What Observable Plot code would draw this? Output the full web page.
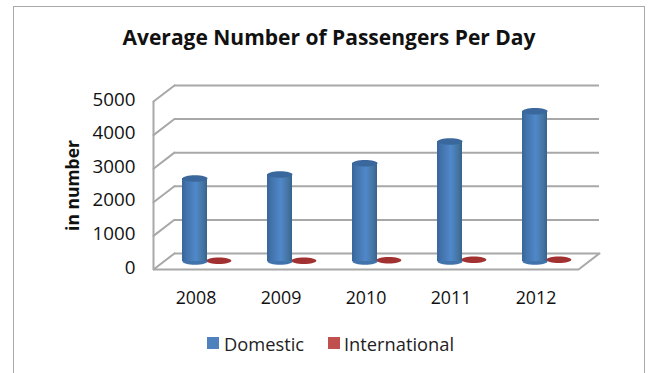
<!DOCTYPE html>
<html><head><meta charset="utf-8">
<script src="https://cdn.jsdelivr.net/npm/d3@7"></script>
<script src="https://cdn.jsdelivr.net/npm/@observablehq/plot@0.6"></script>
<style>
html,body{margin:0;padding:0;background:#fff;width:650px;height:373px;overflow:hidden}
body{position:relative;font-family:"Open Sans",sans-serif;color:#111}
#frame{position:absolute;left:13px;top:6px;width:632px;height:420px;border:1.5px solid #a9a9a9;box-sizing:border-box}
#title{position:relative;height:65px;line-height:74px;text-align:center;padding-left:8px;font-size:21px;font-weight:700;box-sizing:border-box;white-space:nowrap}
#chart{position:relative;height:255px}
#chart svg{display:block}
#legend{position:absolute;top:331px;left:0;width:650px;height:26px;font-size:18.3px;color:#222}
#legend span{position:absolute;top:0;line-height:26px;white-space:nowrap}
#legend i{position:absolute;top:6px;width:12px;height:12px}
</style></head>
<body>
<div id="frame"></div>
<div id="title">Average Number of Passengers Per Day</div>
<div id="chart"></div>
<div id="legend"></div>
<script>
const years = [2008, 2009, 2010, 2011, 2012];
const domestic = [2470, 2590, 2925, 3570, 4470];
const international = [20, 20, 40, 50, 50];
const yTicks = [0, 1000, 2000, 3000, 4000, 5000];
const seriesNames = ["Domestic", "International"];
const seriesColors = ["#4f81bd", "#c0504d"];

const half = 0.147;
const redShift = 0.28;
const xMin = 2007.5, xMax = 2012.5;
const grid = "#a8a8a8";

function ellipseSymbol(ratio) {
  return {
    draw(c, size) {
      const a = Math.sqrt(size / Math.PI), b = a * ratio, k = 0.5523;
      c.moveTo(-a, 0);
      c.bezierCurveTo(-a, -b * k, -a * k, -b, 0, -b);
      c.bezierCurveTo(a * k, -b, a, -b * k, a, 0);
      c.bezierCurveTo(a, b * k, a * k, b, 0, b);
      c.bezierCurveTo(-a * k, b, -a, b * k, -a, 0);
      c.closePath();
    }
  };
}
const ell = ellipseSymbol(0.26);
const depthEdge = {draw(c, l) { c.moveTo(0, 0); c.lineTo(0, -l); }};

const defs = () => {
  const ns = "http://www.w3.org/2000/svg";
  const d = document.createElementNS(ns, "defs");
  d.innerHTML = `<linearGradient id="cyl" x1="0" x2="1" y1="0" y2="0">
    <stop offset="0" stop-color="#38659a"/><stop offset="0.18" stop-color="#4273ab"/>
    <stop offset="0.55" stop-color="#5088ca"/><stop offset="0.85" stop-color="#44749f"/>
    <stop offset="1" stop-color="#37628f"/></linearGradient>`;
  return d;
};

const line = {stroke: grid, strokeWidth: 2};
const chart = Plot.plot({
  width: 650, height: 255,
  marginTop: 20, marginBottom: 67, marginLeft: 153, marginRight: 72,
  x: {type: "linear", domain: [xMin, xMax], range: [153, 578]},
  y: {type: "linear", domain: [0, 5000], range: [188, 20]},
  style: {fontFamily: "'Open Sans',sans-serif", fontSize: "18px", color: "#111", background: "transparent"},
  marks: [
    defs,
    Plot.ruleY(yTicks, {x1: xMin, x2: xMax, dx: 21, ...line}),
    Plot.vector(yTicks, {
      x: xMin, y: d => d, dy: 16, length: 26.4, rotate: 52.5, anchor: "start",
      shape: depthEdge, ...line
    }),
    Plot.ruleX([xMin], {y1: 0, y2: 5000, dy: 16, ...line}),
    Plot.ruleY([0], {x1: xMin, x2: xMax, dy: 16, ...line}),
    Plot.vector([0], {
      x: xMax, y: d => d, dy: 16, length: 26.4, rotate: 52.5, anchor: "start",
      shape: depthEdge, ...line
    }),
    Plot.dot(years, {
      x: d => d + redShift,
      y: (d, i) => international[i],
      r: 12.5, symbol: ell, fill: "#a23131", stroke: "none", dy: 8, dx: -1
    }),
    Plot.dot(years, {x: d => d, y: () => 0, r: 12.5, symbol: ell, fill: "#4274ac", stroke: "none", dy: 8, dx: -1}),
    Plot.rectY(years, {
      x1: d => d - half, x2: d => d + half,
      y1: () => 0, y2: (d, i) => domestic[i],
      fill: "url(#cyl)", dy: 8, dx: -1
    }),
    Plot.dot(years, {
      x: d => d, y: (d, i) => domestic[i],
      r: 12.5, symbol: ell, fill: "#3a689c", stroke: "none", dy: 8, dx: -1
    }),
    Plot.axisY({ticks: yTicks, tickSize: 0, tickPadding: 18, dy: 14, tickFormat: d => String(d), label: null, anchor: "left", fontSize: 18.8}),
    Plot.axisX({ticks: years, tickFormat: d => String(d), tickSize: 0, tickPadding: 0, dy: 38, label: null, fontSize: 17.8}),
    Plot.text(["in number"], {
      y: () => 2024, frameAnchor: "left", dx: -80, rotate: -90,
      fontWeight: 700, fontSize: 17.5, fill: "#111", textAnchor: "middle"
    })
  ]
});
document.getElementById("chart").append(chart);

const legend = document.getElementById("legend");
const legendX = [207, 328], legendTextX = [224, 344];
seriesNames.forEach((n, i) => {
  const sq = document.createElement("i");
  sq.style.left = legendX[i] + "px";
  sq.style.background = seriesColors[i];
  legend.append(sq);
  const s = document.createElement("span");
  s.style.left = legendTextX[i] + "px";
  s.textContent = n;
  legend.append(s);
});
</script>
</body></html>
